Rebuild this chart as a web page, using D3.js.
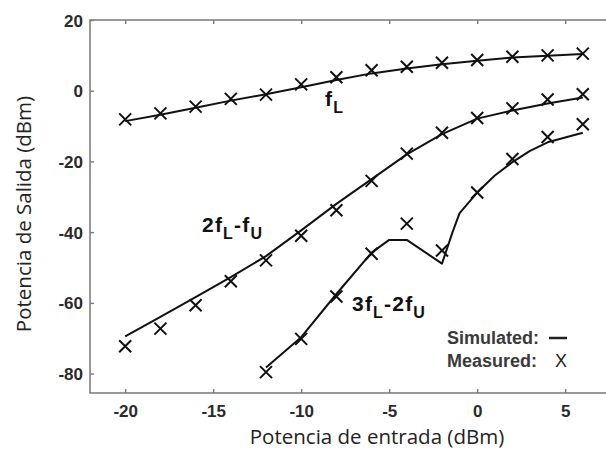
<!DOCTYPE html>
<html>
<head>
<meta charset="utf-8">
<script src="https://cdn.jsdelivr.net/npm/d3@7"></script>
<style>
  body { margin: 0; background: #fff; }
  svg { display: block; }
</style>
</head>
<body>
<div id="chart"></div>
<script>
// input power steps (dBm)
var xMeas = [-20, -18, -16, -14, -12, -10, -8, -6, -4, -2, 0, 2, 4, 6];

// measured points
var fLMeas = [-8.1, -6.4, -4.5, -2.3, -1.1, 1.8, 3.8, 5.8, 6.8, 7.9, 8.7, 9.6, 10.0, 10.5];
var imd3Meas = [-72.3, -67.3, -60.7, -53.9, -48.0, -41.0, -33.8, -25.5, -17.8, -11.9, -7.7, -5.0, -2.5, -1.0];
var x5Meas = [-12, -10, -8, -6, -4, -2, 0, 2, 4, 6];
var imd5Meas = [-79.6, -70.2, -58.2, -46.1, -37.6, -45.2, -28.8, -19.3, -13.1, -9.5];

// simulated curves
var fLSim = [-8.6, -6.8, -4.8, -2.8, -1.0, 1.0, 3.0, 4.9, 6.3, 7.5, 8.5, 9.4, 9.9, 10.4];
var imd3Sim = [-69.5, -64.0, -58.4, -52.7, -46.8, -39.5, -32.0, -25.0, -18.0, -12.3, -7.9, -5.6, -3.6, -1.9];
var x5Sim = [-12, -10, -8, -6, -5, -4, -2, -1.4, -1, 0, 1, 2, 3, 4, 6];
var imd5Sim = [-78.3, -69.7, -57.5, -45.8, -42.2, -42.2, -48.9, -40.0, -34.6, -28.8, -24.0, -20.2, -17.0, -14.6, -11.9];

var xTicks = [-20, -15, -10, -5, 0, 5];
var yTicks = [20, 0, -20, -40, -60, -80];

var width = 606, height = 451,
    marginLeft = 90, marginTop = 20, plotW = 528, plotH = 373;

var svg = d3.select("#chart").append("svg")
    .attr("width", width)
    .attr("height", height);

var x = d3.scaleLinear().domain([-22, 8]).range([marginLeft, marginLeft + plotW]);
var y = d3.scaleLinear().domain([-85.5, 20]).range([marginTop + plotH, marginTop]);

// frame
svg.append("rect")
    .attr("x", marginLeft).attr("y", marginTop)
    .attr("width", plotW).attr("height", plotH)
    .attr("fill", "none").attr("stroke", "#808080").attr("stroke-width", 1.6);

var tickFont = "bold 17px 'Liberation Sans', Arial, sans-serif";
var fmt = function (d) { return String(d); };

var xAxis = svg.append("g")
    .attr("transform", "translate(0," + (marginTop + plotH) + ")")
    .call(d3.axisBottom(x).tickValues(xTicks).tickSize(-4).tickPadding(12).tickFormat(fmt));
var xAxisTop = svg.append("g")
    .attr("transform", "translate(0," + marginTop + ")")
    .call(d3.axisTop(x).tickValues(xTicks).tickSize(-4).tickFormat(""));
var yAxis = svg.append("g")
    .attr("transform", "translate(" + marginLeft + ",0)")
    .call(d3.axisLeft(y).tickValues(yTicks).tickSize(-4).tickPadding(7).tickFormat(fmt));

[xAxis, xAxisTop, yAxis].forEach(function (g) {
    g.select(".domain").remove();
    g.selectAll(".tick line").attr("stroke", "#808080").attr("stroke-width", 1.5);
    g.selectAll("text").style("font", tickFont).attr("fill", "#2a2a2a");
});
yAxis.selectAll("text").attr("dy", "0.36em");

// lines
var line = d3.line()
    .x(function (d) { return x(d[0]); })
    .y(function (d) { return y(d[1]); });

var simSeries = [
    d3.zip(xMeas, fLSim),
    d3.zip(xMeas, imd3Sim),
    d3.zip(x5Sim, imd5Sim)
];
svg.append("g")
    .selectAll("path")
    .data(simSeries)
    .join("path")
    .attr("fill", "none")
    .attr("stroke", "#111")
    .attr("stroke-width", 2)
    .attr("stroke-linejoin", "round")
    .attr("d", line);

// X markers
var measPts = d3.zip(xMeas, fLMeas)
    .concat(d3.zip(xMeas, imd3Meas))
    .concat(d3.zip(x5Meas, imd5Meas));
var s = 6;
svg.append("g")
    .selectAll("path")
    .data(measPts)
    .join("path")
    .attr("fill", "none")
    .attr("stroke", "#111")
    .attr("stroke-width", 2)
    .attr("d", function (d) {
        var cx = x(d[0]), cy = y(d[1]);
        return "M" + (cx - s) + "," + (cy - s) + "L" + (cx + s) + "," + (cy + s) +
               "M" + (cx - s) + "," + (cy + s) + "L" + (cx + s) + "," + (cy - s);
    });

// curve labels
var labFont = "bold 21px 'Liberation Sans', Arial, sans-serif";
function label(px, py, parts) {
    var t = svg.append("text").attr("x", px).attr("y", py)
        .style("font", labFont).style("letter-spacing", "1.2px").attr("fill", "#111");
    parts.forEach(function (p) {
        var ts = t.append("tspan").text(p[0]);
        if (p[1]) ts.attr("dy", p[1]);
        if (p[2]) ts.style("font-size", p[2]);
    });
}
label(325, 106, [["f"], ["L", 7, "16px"]]);
label(202, 232, [["2f"], ["L", 7, "16px"], ["-f", -7], ["U", 7, "16px"]]);
label(352, 311, [["3f"], ["L", 7, "16px"], ["-2f", -7], ["U", 7, "16px"]]);

// legend
var legFont = "bold 18px 'Liberation Sans', Arial, sans-serif";
svg.append("text").attr("x", 447).attr("y", 344)
    .style("font", legFont).attr("fill", "#3a3a3a").text("Simulated:");
svg.append("line")
    .attr("x1", 549).attr("x2", 567).attr("y1", 338).attr("y2", 338)
    .attr("stroke", "#222").attr("stroke-width", 2.5);
svg.append("text").attr("x", 447).attr("y", 367)
    .style("font", legFont).attr("fill", "#3a3a3a").text("Measured:");
svg.append("text").attr("x", 555).attr("y", 367)
    .style("font", "18px 'Liberation Sans', Arial, sans-serif").attr("fill", "#222").text("X");

// axis titles
var titleFont = "20.5px 'Open Sans', 'Noto Sans', sans-serif";
svg.append("text")
    .attr("x", 377).attr("y", 444)
    .attr("text-anchor", "middle")
    .style("font", titleFont).attr("fill", "#222")
    .text("Potencia de entrada (dBm)");
svg.append("text")
    .attr("transform", "translate(31,214) rotate(-90)")
    .attr("text-anchor", "middle")
    .style("font", titleFont).attr("fill", "#222")
    .text("Potencia de Salida (dBm)");
</script>
</body>
</html>
